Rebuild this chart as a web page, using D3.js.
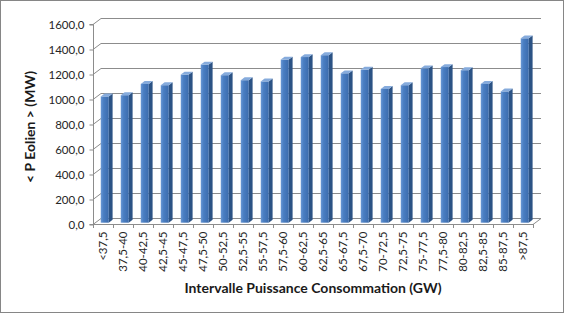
<!DOCTYPE html>
<html>
<head>
<meta charset="utf-8">
<script src="https://cdn.jsdelivr.net/npm/d3@7"></script>
<style>
  html, body { margin: 0; padding: 0; background: #fff; }
  svg { display: block; }
  text { font-family: Lato, "Open Sans", "DejaVu Sans", sans-serif; }
</style>
</head>
<body>
<svg id="chart" width="565" height="329"></svg>
<script>
// Intervals of consumption power (GW) and mean wind power (MW)
const categories = ["<37,5", "37,5-40", "40-42,5", "42,5-45", "45-47,5", "47,5-50",
  "50-52,5", "52,5-55", "55-57,5", "57,5-60", "60-62,5", "62,5-65", "65-67,5",
  "67,5-70", "70-72,5", "72,5-75", "75-77,5", "77,5-80", "80-82,5", "82,5-85",
  "85-87,5", ">87,5"];
const values = [1010, 1020, 1110, 1100, 1185, 1265, 1180, 1140, 1130, 1305, 1325,
  1340, 1195, 1225, 1070, 1100, 1235, 1245, 1220, 1110, 1050, 1475];
const yTicks = [0, 200, 400, 600, 800, 1000, 1200, 1400, 1600];
const yTitle = "< P Eolien > (MW)";
const xTitle = "Intervalle Puissance Consommation (GW)";

const svg = d3.select("#chart");
const fmt = v => d3.format(".1f")(v).replace(".", ",");

// front plane of the plot and the depth offset of the back wall
const plot = { left: 93, right: 533, top: 24, bottom: 224 };
const depth = { dx: 8, dy: -6 };

const x = d3.scaleBand().domain(categories).range([plot.left, plot.right]).paddingInner(0).paddingOuter(0);
const y = d3.scaleLinear().domain([0, 1600]).range([plot.bottom, plot.top]);

// chart frame
svg.append("rect").attr("x", 0.5).attr("y", 0.5).attr("width", 563).attr("height", 312)
  .attr("fill", "#fff").attr("stroke", "#868686").attr("stroke-width", 1);

const grid = svg.append("g").attr("stroke", "#8c8c8c").attr("stroke-width", 1).attr("fill", "none");
// gridlines: short segment across the side wall, then along the back wall
yTicks.forEach(t => {
  const yy = Math.round(y(t)) + 0.5;
  grid.append("path").attr("d",
    `M${plot.left},${yy} L${plot.left + depth.dx},${yy + depth.dy} L${plot.right + depth.dx},${yy + depth.dy}`);
});
// floor edges
grid.append("path").attr("d",
  `M${plot.left},${plot.bottom + 0.5} L${plot.right},${plot.bottom + 0.5} L${plot.right + depth.dx},${plot.bottom + 0.5 + depth.dy}`);
// vertical axis line with ticks
const yAxis = d3.axisLeft(y).tickValues(yTicks).tickSize(4).tickPadding(5).tickFormat(fmt);
const gy = svg.append("g").attr("transform", `translate(${plot.left + 0.5},0.5)`).call(yAxis);
gy.select(".domain").attr("stroke", "#8c8c8c").attr("d", `M-4,${plot.top}H0V${plot.bottom}H-4`);
gy.selectAll(".tick line").attr("stroke", "#8c8c8c");
gy.selectAll(".tick text").attr("fill", "#262626").style("font-size", "11.5px")
  .style("font-family", "Lato, 'Open Sans', sans-serif");

// category axis along the front floor edge
const xAxis = d3.axisBottom(x).tickSize(0).tickPadding(0);
const gx = svg.append("g").attr("transform", `translate(0,${plot.bottom + 0.5})`).call(xAxis);
gx.select(".domain").remove();
gx.selectAll(".tick text")
  .attr("transform", "rotate(-90)")
  .attr("x", -7).attr("y", 0).attr("dy", "0.35em")
  .attr("text-anchor", "end")
  .attr("fill", "#262626").style("font-size", "11.5px")
  .style("font-family", "Lato, 'Open Sans', sans-serif");
// tick marks between categories
svg.append("g").attr("stroke", "#8c8c8c").selectAll("line")
  .data(d3.range(categories.length + 1)).join("line")
  .attr("x1", i => plot.left + i * x.bandwidth() + 0.5).attr("x2", i => plot.left + i * x.bandwidth() + 0.5)
  .attr("y1", plot.bottom).attr("y2", plot.bottom + 4);

// 3D columns
const defs = svg.append("defs");
const gFront = defs.append("linearGradient").attr("id", "front").attr("x1", 0).attr("x2", 1);
gFront.append("stop").attr("offset", 0).attr("stop-color", "#6a98d4");
gFront.append("stop").attr("offset", 0.35).attr("stop-color", "#4a7ec2");
gFront.append("stop").attr("offset", 1).attr("stop-color", "#3b6bac");

const barW = 8, fz = 0.22, bz = 0.7;
const bars = svg.append("g").selectAll("g").data(values).join("g");
bars.each(function (v, i) {
  const g = d3.select(this);
  const cx = x(categories[i]) + x.bandwidth() / 2;
  const fx = cx - barW / 2 + depth.dx * fz, fy = depth.dy * fz;
  const bx = depth.dx * (bz - fz), by = depth.dy * (bz - fz);
  const yt = y(v) + fy, yb = y(0) + fy;
  // side face
  g.append("path").attr("fill", "#2c5385")
    .attr("d", `M${fx + barW},${yt} L${fx + barW + bx},${yt + by} L${fx + barW + bx},${yb + by} L${fx + barW},${yb} Z`);
  // front face
  g.append("rect").attr("x", fx).attr("y", yt).attr("width", barW).attr("height", yb - yt)
    .attr("fill", "url(#front)");
  // top face
  g.append("path").attr("fill", "#86abdc")
    .attr("d", `M${fx},${yt} L${fx + bx},${yt + by} L${fx + barW + bx},${yt + by} L${fx + barW},${yt} Z`);
});

// axis titles
svg.append("text").attr("transform", `translate(35,${(plot.top + plot.bottom) / 2 + 3}) rotate(-90)`)
  .attr("text-anchor", "middle").attr("font-weight", "bold").attr("font-size", 14)
  .attr("fill", "#1a1a1a").text(yTitle);
svg.append("text").attr("x", 313).attr("y", 293)
  .attr("text-anchor", "middle").attr("font-weight", "bold").attr("font-size", 14)
  .attr("fill", "#1a1a1a").text(xTitle);
</script>
</body>
</html>
